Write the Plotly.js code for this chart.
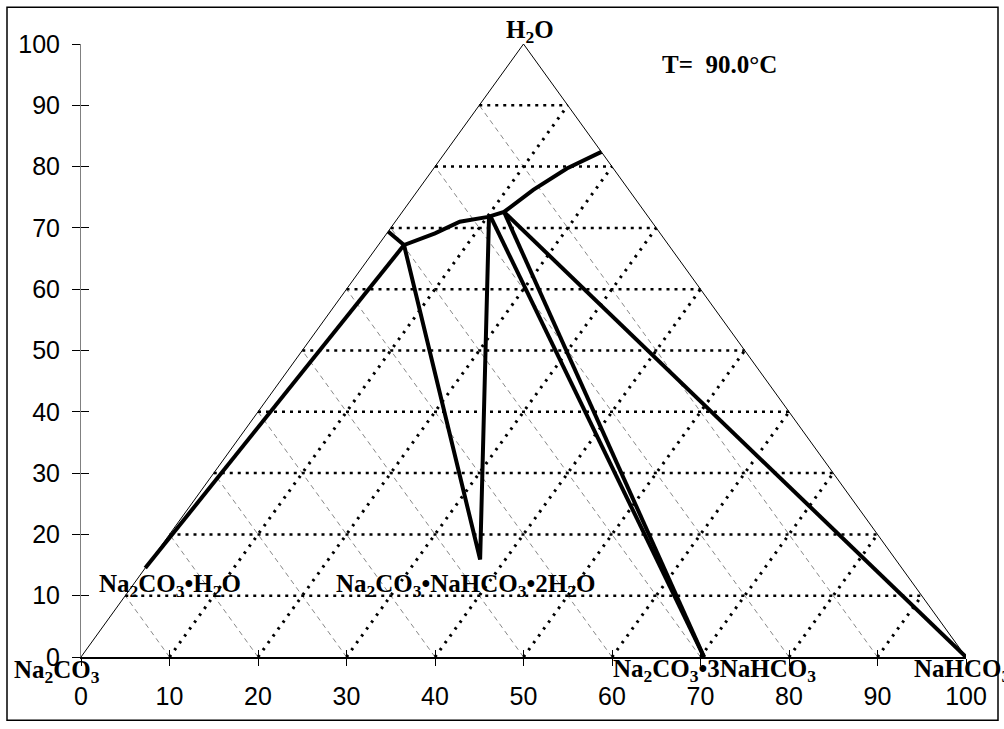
<!DOCTYPE html>
<html>
<head>
<meta charset="utf-8">
<script src="https://cdn.plot.ly/plotly-3.0.1.min.js"></script>
<style>
  html, body { margin: 0; padding: 0; background: #fff; }
  #chart { width: 1004px; height: 729px; }
</style>
</head>
<body>
<div id="chart"></div>
<script>
// ---- Data (Cartesian coordinates: x = NaHCO3 + H2O/2, y = H2O) ----
const tickValues = [0, 10, 20, 30, 40, 50, 60, 70, 80, 90, 100];
const gridLevels = [10, 20, 30, 40, 50, 60, 70, 80, 90];

// saturation curve (liquid-phase boundary)
const curveX = [34.7, 36.5, 40.0, 42.8, 46.0, 47.8, 51.1, 54.9, 58.8];
const curveY = [69.4, 67.2, 69.1, 71.0, 71.8, 72.6, 76.2, 79.7, 82.4];

// tie lines
const monoTieX = [7.26, 36.5];
const monoTieY = [14.5, 67.2];
const wegTieX = [36.5, 45.1, 46.1];
const wegTieY = [67.2, 15.9, 71.8];
const dec1TieX = [46.3, 70.4];
const dec1TieY = [71.8, 0];
const dec2TieX = [47.8, 70.4];
const dec2TieY = [72.6, 0];
const bicTieX = [47.8, 100];
const bicTieY = [72.6, 0];

// triangle vertices
const triX = [0, 50, 100];
const triY = [0, 100, 0];

// labels (positions in axis units, range 0-100)
const labelTexts = [
  'H<sub>2</sub>O',
  'T=  90.0°C',
  'Na<sub>2</sub>CO<sub>3</sub>•H<sub>2</sub>O',
  'Na<sub>2</sub>CO<sub>3</sub>•NaHCO<sub>3</sub>•2H<sub>2</sub>O',
  'Na<sub>2</sub>CO<sub>3</sub>',
  'Na<sub>2</sub>CO<sub>3</sub>•3NaHCO<sub>3</sub>',
  'NaHCO<sub>3</sub>'
];
const labelX = [50.7, 72.1, 10.0, 43.4, -2.7, 71.6, 93.9];
const labelY = [102.0, 96.7, 11.7, 11.7, -2.3, -2.2, -2.2];
const labelAnchor = ['center', 'center', 'center', 'center', 'center', 'center', 'left'];

// ---- build grid line traces from levels ----
function withBreaks(segs) {
  const xs = [], ys = [];
  segs.forEach(s => { xs.push(s[0], s[2], null); ys.push(s[1], s[3], null); });
  return {x: xs, y: ys};
}
const hSegs = gridLevels.map(k => [k / 2, k, 100 - k / 2, k]);
const lSegs = gridLevels.map(k => [k, 0, (100 + k) / 2, 100 - k]);
const rSegs = gridLevels.map(k => [k, 0, k / 2, k]);
const hG = withBreaks(hSegs), lG = withBreaks(lSegs), rG = withBreaks(rSegs);

const thick = {color: '#000', width: 4};
const traces = [
  {x: rG.x, y: rG.y, mode: 'lines', line: {color: '#888', width: 1, dash: '5px,4px'}, hoverinfo: 'skip'},
  {x: lG.x, y: lG.y, mode: 'lines', line: {color: '#000', width: 3, dash: '2.5px,6px'}, hoverinfo: 'skip'},
  {x: hG.x, y: hG.y, mode: 'lines', line: {color: '#000', width: 2.5, dash: '3px,5px'}, hoverinfo: 'skip'},
  {x: triX, y: triY, mode: 'lines', line: {color: '#000', width: 1}, hoverinfo: 'skip'},
  {x: curveX, y: curveY, mode: 'lines', line: thick},
  {x: monoTieX, y: monoTieY, mode: 'lines', line: thick},
  {x: wegTieX, y: wegTieY, mode: 'lines', line: thick},
  {x: dec1TieX, y: dec1TieY, mode: 'lines', line: thick},
  {x: dec2TieX, y: dec2TieY, mode: 'lines', line: thick},
  {x: bicTieX, y: bicTieY, mode: 'lines', line: thick},
  {x: [0], y: [0], xaxis: 'x2', yaxis: 'y2', mode: 'markers', marker: {opacity: 0}, hoverinfo: 'skip'}
];

const annotations = labelTexts.map((t, i) => ({
  text: '<b>' + t + '</b>', x: labelX[i] / 100, y: labelY[i] / 100, xref: 'paper', yref: 'paper',
  xanchor: labelAnchor[i], yanchor: 'middle', showarrow: false,
  font: {family: 'Liberation Serif, Times New Roman, serif', size: 25, color: '#000'}
}));

const tickFont = {family: 'Liberation Sans, Arial, sans-serif', size: 25, color: '#000'};
const layout = {
  width: 1004, height: 729,
  margin: {l: 81, r: 38, t: 44, b: 72, pad: 0},
  paper_bgcolor: '#fff', plot_bgcolor: '#fff',
  showlegend: false,
  xaxis: {range: [0, 100], tickvals: tickValues, ticks: 'outside', ticklen: 7, tickcolor: '#000',
          showline: true, linecolor: '#000', linewidth: 2, showgrid: false, zeroline: false,
          tickfont: tickFont, ticklabelstandoff: 9, fixedrange: true},
  yaxis: {range: [0, 100], tickvals: tickValues, ticks: 'outside', ticklen: 8, tickcolor: '#000',
          showline: true, linecolor: '#808080', linewidth: 1, showgrid: false, zeroline: false,
          tickfont: tickFont, ticklabelstandoff: 7, fixedrange: true},
  xaxis2: {range: [0, 100], overlaying: 'x', anchor: 'y', side: 'bottom', tickvals: tickValues,
           ticks: 'inside', ticklen: 7, tickcolor: '#000', showticklabels: false, showline: false,
           showgrid: false, zeroline: false},
  yaxis2: {range: [0, 100], overlaying: 'y', anchor: 'x', side: 'left', tickvals: tickValues,
           ticks: 'inside', ticklen: 8, tickcolor: '#000', showticklabels: false, showline: false,
           showgrid: false, zeroline: false},
  annotations: annotations,
  shapes: [{type: 'rect', xref: 'paper', yref: 'paper',
            x0: (7 - 81) / 885, x1: (998 - 81) / 885, y0: (656.7 - 720) / 613, y1: (656.7 - 7) / 613,
            line: {color: '#000', width: 1.5}, fillcolor: 'rgba(0,0,0,0)'}]
};

Plotly.newPlot('chart', traces, layout, {displayModeBar: false, staticPlot: true});
</script>
</body>
</html>
